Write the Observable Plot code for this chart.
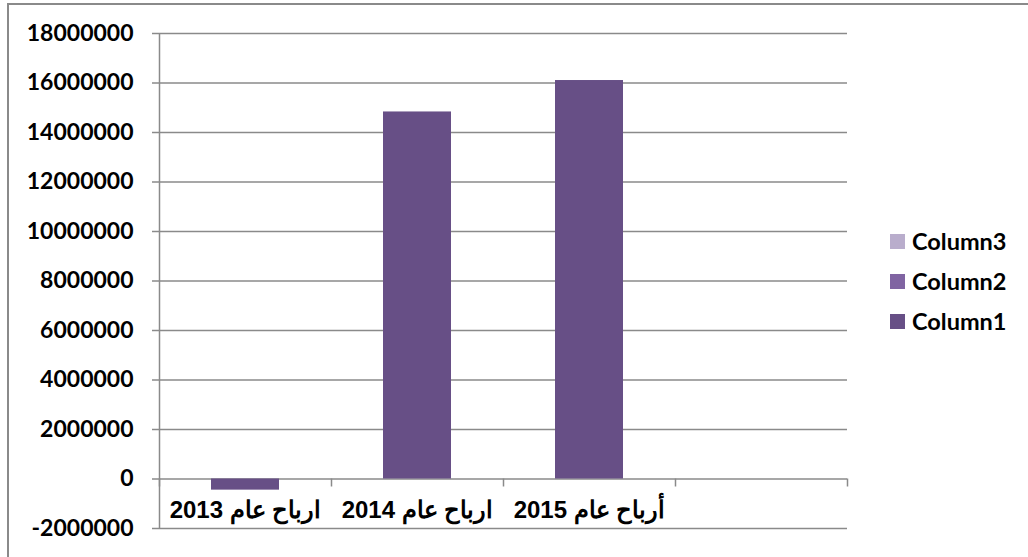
<!DOCTYPE html>
<html>
<head>
<meta charset="utf-8">
<script src="https://cdn.jsdelivr.net/npm/d3@7"></script>
<script src="https://cdn.jsdelivr.net/npm/@observablehq/plot@0.6"></script>
<style>
  html, body { margin: 0; padding: 0; background: #fff; }
  #wrap { position: relative; width: 1028px; height: 557px; overflow: hidden; }
  #border { position: absolute; left: 7px; top: 3px; width: 1040px; height: 570px;
            border: 2px solid #8a8a8a; box-sizing: border-box; pointer-events: none; }
  #wrap div.lg-swatch { height: 40px; display: flex; align-items: center; margin: 0; padding: 0; }
  #wrap div.lg-swatch > svg { margin-right: 7px !important; }
</style>
</head>
<body>
<div id="wrap"><div id="border"></div></div>
<script>
// ---- data ----
const categories = ["ارباح عام 2013", "ارباح عام 2014", "أرباح عام 2015", ""];
const column1 = [-450000, 14830000, 16100000, null];
const column2 = [null, null, null, null];
const column3 = [null, null, null, null];
const yTicks = [-2000000, 0, 2000000, 4000000, 6000000, 8000000, 10000000, 12000000, 14000000, 16000000, 18000000];
const legendNames = ["Column3", "Column2", "Column1"];
const legendColors = ["#b9adcc", "#8064a2", "#674f86"];

const rows = categories.map((c, i) => ({cat: c, i, v1: column1[i], v2: column2[i], v3: column3[i]}));
const bars = rows.filter(d => d.v1 != null);
const boundaries = d3.range(categories.length + 1);
const gridColor = "#8a8a8a";

const chart = Plot.plot({
  width: 1028,
  height: 557,
  marginLeft: 159,
  marginRight: 181,
  marginTop: 33,
  marginBottom: 29,
  x: {domain: [0, categories.length], axis: null},
  y: {domain: [yTicks[0], yTicks[yTicks.length - 1]], axis: null},
  style: {fontFamily: "Lato, sans-serif", background: "transparent"},
  marks: [
    Plot.ruleY(yTicks, {stroke: gridColor, strokeWidth: 1.5, insetLeft: -7}),
    Plot.ruleX([0], {stroke: gridColor, strokeWidth: 1.5}),
    Plot.ruleX(boundaries, {y1: 0, y2: 0, insetBottom: -8, stroke: gridColor, strokeWidth: 1.5}),
    Plot.rectY(bars, {x1: d => d.i, x2: d => d.i + 1, y: "v1", fill: legendColors[2],
      insetLeft: 52, insetRight: 52}),
    Plot.axisY(yTicks, {ticks: yTicks, label: null, tickSize: 0, tickPadding: 26, tickFormat: d => String(d),
      fontSize: 23, fontWeight: 700, fill: "#000", fontFamily: "Lato, sans-serif"}),
    Plot.text(rows, {x: d => d.i + 0.5, y: () => 0, text: "cat", dy: 31,
      fontSize: 24, fontWeight: 700, fill: "#000", fontFamily: "Liberation Sans, Arial, sans-serif"})
  ]
});
const wrap = document.getElementById("wrap");
wrap.insertBefore(chart, wrap.firstChild);

const legend = Plot.legend({
  color: {domain: legendNames, range: legendColors},
  legend: "swatches",
  columns: 1,
  swatchSize: 15,
  className: "lg",
  style: {fontFamily: "Lato, sans-serif", fontSize: "23.5px", fontWeight: "700", color: "#000"}
});
legend.style.position = "absolute";
legend.style.left = "890px";
legend.style.top = "221px";
legend.style.margin = "0";
wrap.appendChild(legend);
</script>
</body>
</html>
